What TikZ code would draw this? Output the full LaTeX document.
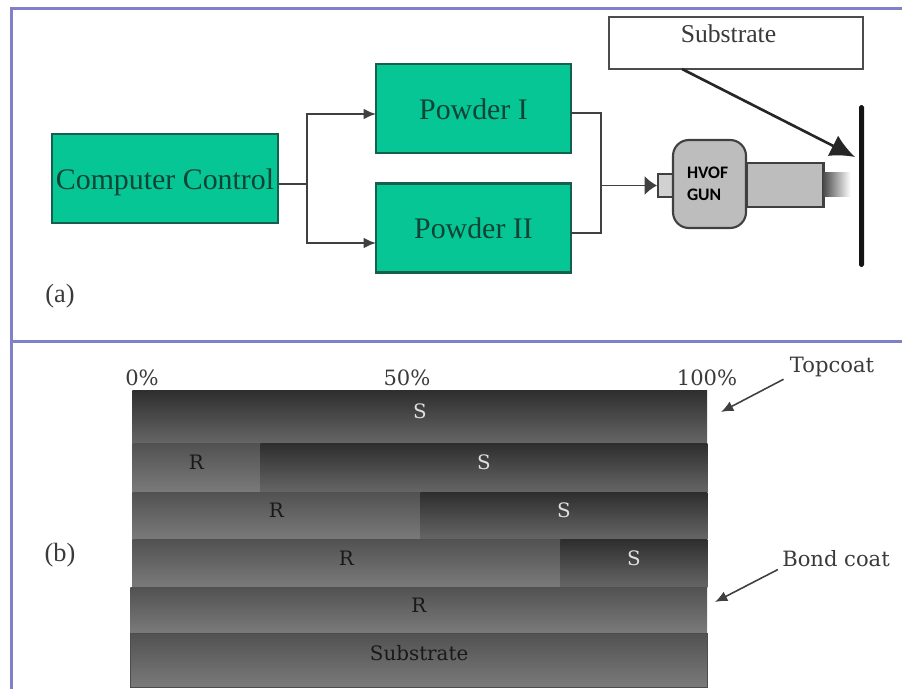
\documentclass[tikz,border=0pt]{standalone}
\usepackage{fontspec}
\setmainfont{Liberation Serif}
\newfontfamily\labelfont{DejaVu Serif}
\newfontfamily\gunfont{Carlito}
\usetikzlibrary{positioning,arrows.meta}
\definecolor{framecol}{HTML}{8080C8}
\definecolor{blockcol}{HTML}{06C695}
\definecolor{blockline}{HTML}{14604C}
\definecolor{inkcol}{HTML}{3A3A3A}

\begin{document}
\begin{tikzpicture}
	[x=0.02cm,y=-0.02cm,>={Latex[length=7pt,width=6pt]},]
	\tikzstyle{block}=[rectangle, draw=blockline, fill=blockcol, line width=1.2pt, text=blockline!70!black, inner sep=0pt, minimum width=3.9cm, minimum height=1.78cm, text height=0.54cm, text depth=0.1cm, font=\fontsize{17}{20}\selectfont];
	\tikzstyle{part}=[rectangle, draw=black!75, fill=black!26, line width=1.2pt, inner sep=0pt];
	\tikzstyle{layerS}=[rectangle, anchor=north west, inner sep=0pt, top color=black!82, bottom color=black!60, text=black!12, text depth=0.21cm, font=\labelfont\fontsize{11.3}{13}\selectfont];
	\tikzstyle{layerR}=[layerS, top color=black!68, bottom color=black!52, text=black!90];
	\tikzstyle{note}=[text=inkcol, inner sep=0pt, font=\labelfont\fontsize{12}{14}\selectfont];
	\tikzstyle{tag}=[text=inkcol, inner sep=0pt, font=\fontsize{15}{18}\selectfont];
	\tikzstyle{wire}=[draw=black!75, line width=1.1pt];

	\useasboundingbox (0,0) rectangle (902,689);

	% frame
	\draw[framecol, line width=1.8pt] (902,8.5) -- (11.5,8.5) -- (11.5,689);
	\draw[framecol, line width=1.8pt] (11.5,341.5) -- (902,341.5);

	% panel a
	\node[block, minimum width=4.52cm] (control) at (165,178.5) {Computer Control};
	\node[block] (powderone) at (473.5,108.5) {Powder I};
	\node[block] (powdertwo) at (473.5,228) {Powder II};

	\node[part, minimum width=1.54cm, minimum height=0.88cm] (barrel) at (785,185) {};
	\node[part, fill=black!18, minimum width=0.3cm, minimum height=0.46cm] (stub) at (665.5,185.5) {};
	\node[part, rounded corners=9pt, minimum width=1.46cm, minimum height=1.76cm, text width=0.9cm, align=left, text=black, font=\gunfont\bfseries\fontsize{10}{12.2}\selectfont] (gun) at (709.5,184) {HVOF\\GUN};
	\node[inner sep=0pt, minimum width=0.54cm, minimum height=0.5cm, left color=black!70, right color=white] (nozzle) at (837,184.5) {};

	\node[rectangle, draw=black!70, fill=white, line width=1pt, inner sep=0pt, minimum width=5.08cm, minimum height=1.04cm, text depth=0.36cm, text=inkcol, font=\fontsize{14.6}{17}\selectfont] (subbox) at (736,43) {Substrate\hspace{0.3cm}\mbox{}};
	\node[fill=black!92, rounded corners=1pt, inner sep=0pt, minimum width=0.1cm, minimum height=3.24cm] (plate) at (861.5,186) {};

	\node[tag] (taga) at (60,296) {(a)};

	\coordinate (fork) at (307,184);
	\coordinate (inone) at (376,114);
	\coordinate (intwo) at (376,243);
	\coordinate (outone) at (571,113);
	\coordinate (outtwo) at (571,233);
	\coordinate (merge) at (601,185.5);
	\coordinate (subfoot) at (682,69);
	\coordinate (subtip) at (855,157);

	\path[wire]
	(control.east |- fork) -- (fork)
	(fork) edge[wire,->,to path={|- (\tikztotarget)}] (inone)
	(fork) edge[wire,->,to path={|- (\tikztotarget)}] (intwo)
	(outone) -| (merge)
	(outtwo) -| (merge)
	(merge) edge[wire,-{Latex[length=7pt,width=11pt]}] (stub.west);
	\draw[black!85, line width=1.5pt, -{Latex[length=14pt,width=13pt]}] (subfoot) -- (subtip);

	% panel b
	\node[layerS, minimum width=11.5cm, minimum height=1.06cm] (rowone) at (132,390) {S};
	\node[layerR, minimum width=2.56cm, minimum height=0.98cm] (rowtwoR) at (132,443) {R};
	\node[layerS, minimum width=8.94cm, minimum height=0.98cm] (rowtwoS) at (260,443) {S};
	\node[layerR, minimum width=5.76cm, minimum height=0.94cm] (rowthreeR) at (132,492) {R};
	\node[layerS, minimum width=5.74cm, minimum height=0.94cm] (rowthreeS) at (420,492) {S};
	\node[layerR, minimum width=8.56cm, minimum height=0.96cm] (rowfourR) at (132,539) {R};
	\node[layerS, minimum width=2.94cm, minimum height=0.96cm] (rowfourS) at (560,539) {S};
	\node[layerR, minimum width=11.54cm, minimum height=0.92cm] (rowfive) at (130,587) {R};
	\node[layerR, minimum width=11.54cm, minimum height=1.08cm, text depth=0.29cm, draw=black!70, line width=0.8pt] (rowsub) at (130,633) {Substrate};

	\node[note] (pctzero) at (142,378) {0\%};
	\node[note] (pctfifty) at (407,378) {50\%};
	\node[note] (pcthundred) at (707,378) {100\%};
	\node[note] (topcoat) at (832,367) {Topcoat};
	\node[note] (bondcoat) at (836,559) {Bond coat};
	\node[tag] (tagb) at (60,555) {(b)};

	\coordinate (toptip) at (721,412);
	\coordinate (bondtip) at (715,602);
	\draw[->, black!75, line width=0.9pt] (topcoat.south west) ++(-6,2) -- (toptip);
	\draw[->, black!75, line width=0.9pt] (bondcoat.south west) ++(-4,2) -- (bondtip);

\end{tikzpicture}
\end{document}
